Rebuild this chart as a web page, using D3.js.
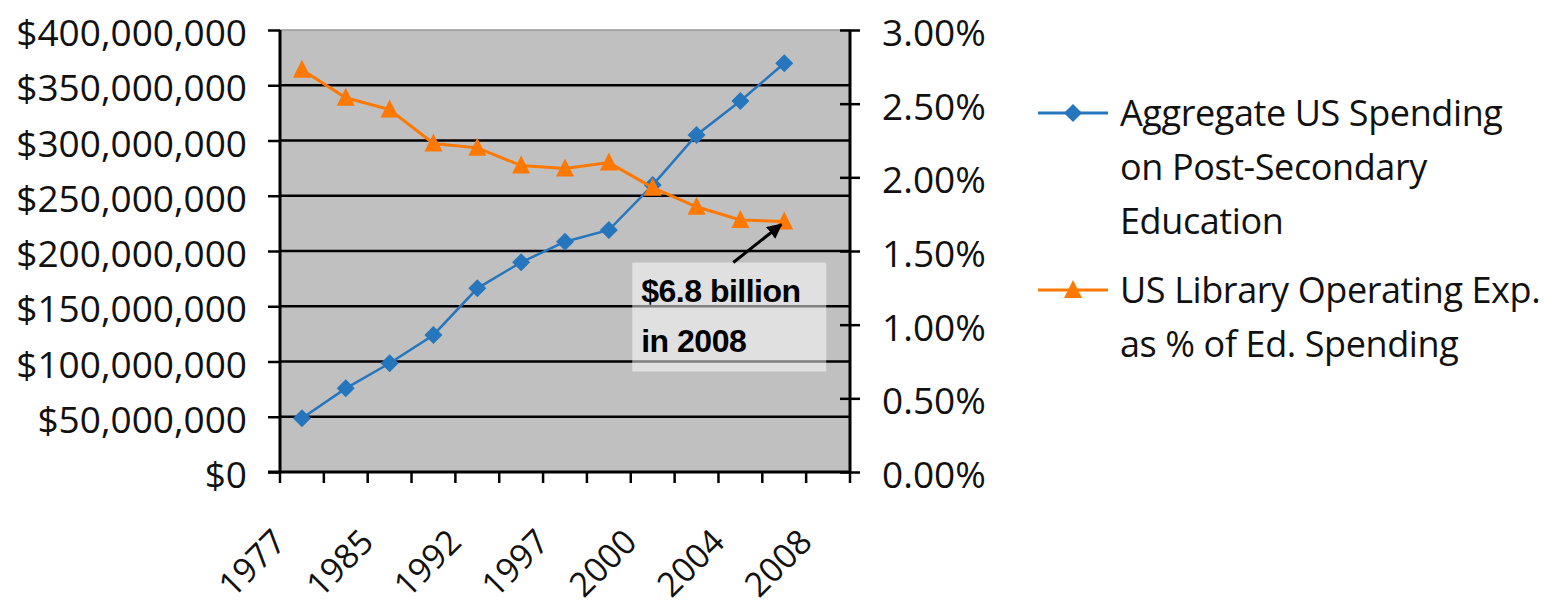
<!DOCTYPE html>
<html>
<head>
<meta charset="utf-8">
<script src="https://cdn.jsdelivr.net/npm/d3@7"></script>
<style>
  body { margin: 0; background: #fff; }
  svg { display: block; }
  .axis text { font-family: "Open Sans", sans-serif; font-size: 37px; fill: #111; }
  .axis path { display: none; }
  .legend text { font-family: "Open Sans", sans-serif; font-size: 36px; letter-spacing: -0.4px; fill: #111; }
</style>
</head>
<body>
<div id="chart"></div>
<script>
// category slots (13 on the axis, only every other one labelled)
const categories = ["1977", "1981", "1985", "1989", "1992", "1995", "1997", "1999", "2000", "2002", "2004", "2006", "2008"];
const shownLabels = ["1977", "1985", "1992", "1997", "2000", "2004", "2008"];

// Aggregate US Spending on Post-Secondary Education ($)
const spending = [48.6e6, 75.7e6, 98.4e6, 124e6, 166.2e6, 189.8e6, 208.4e6, 219e6, 259.7e6, 305e6, 335.7e6, 369.9e6];
// US Library Operating Exp. as % of Ed. Spending
const libraryPct = [0.0273, 0.0254, 0.0246, 0.0223, 0.0220, 0.0208, 0.0206, 0.0210, 0.0193, 0.0180, 0.0171, 0.0170];

const leftTicks = d3.range(0, 400e6 + 1, 50e6);
const rightTicks = d3.range(0, 0.0301, 0.005);

const legendLines = [
    ["Aggregate US Spending", "on Post-Secondary", "Education"],
    ["US Library Operating Exp.", "as % of Ed. Spending"]
];
const noteLines = ["$6.8 billion", "in 2008"];

const blue = "#2676be";
const orange = "#ff7800";

const margin = { left: 280, right: 706, top: 30, bottom: 137 };
const W = 1556, H = 609;
const width = W - margin.left - margin.right;
const height = H - margin.top - margin.bottom;

const svg = d3.select("#chart").append("svg")
    .attr("width", W)
    .attr("height", H);

const g = svg.append("g")
    .attr("transform", `translate(${margin.left}, ${margin.top})`);

const xScale = d3.scaleBand().domain(categories).range([0, width]).padding(0);
const yLeft = d3.scaleLinear().domain([0, 400e6]).range([height, 0]);
const yRight = d3.scaleLinear().domain([0, 0.03]).range([height, 0]);
const cx = i => xScale(categories[i]) + xScale.bandwidth() / 2;

// plot area
g.append("rect")
    .attr("width", width).attr("height", height)
    .attr("fill", "#c0c0c0")
    .attr("stroke", "#9a9a9a").attr("stroke-width", 1.5);

// gridlines from left axis
g.append("g").selectAll("line")
    .data(leftTicks.filter(d => d > 0 && d < 400e6))
    .join("line")
    .attr("x1", 0).attr("x2", width)
    .attr("y1", d => yLeft(d)).attr("y2", d => yLeft(d))
    .attr("stroke", "#000").attr("stroke-width", 2.5);

// left axis
const leftAxis = g.append("g").attr("class", "axis")
    .call(d3.axisLeft(yLeft).tickValues(leftTicks)
        .tickFormat(d3.format("$,.0f")).tickSize(12).tickPadding(21));
leftAxis.selectAll("line").attr("stroke", "#000").attr("stroke-width", 2.5);
leftAxis.selectAll("text").attr("dy", "0.42em");
g.append("line").attr("x1", 0).attr("x2", 0).attr("y1", 0).attr("y2", height)
    .attr("stroke", "#000").attr("stroke-width", 3);

// right axis
const rightAxis = g.append("g").attr("class", "axis")
    .attr("transform", `translate(${width}, 0)`)
    .call(d3.axisRight(yRight).tickValues(rightTicks)
        .tickFormat(d3.format(".2%")).tickSize(10).tickPadding(22));
rightAxis.selectAll("line").attr("x1", -10).attr("stroke", "#000").attr("stroke-width", 2.5);
rightAxis.selectAll("text").attr("dy", "0.42em");
g.append("line").attr("x1", width).attr("x2", width).attr("y1", 0).attr("y2", height)
    .attr("stroke", "#000").attr("stroke-width", 3);

// bottom axis
const bottomAxis = g.append("g").attr("class", "axis")
    .attr("transform", `translate(0, ${height})`);
bottomAxis.selectAll("line.tick")
    .data(d3.range(categories.length + 1))
    .join("line")
    .attr("class", "tick")
    .attr("x1", i => i * xScale.bandwidth()).attr("x2", i => i * xScale.bandwidth())
    .attr("y1", 0).attr("y2", 11)
    .attr("stroke", "#000").attr("stroke-width", 2.5);
bottomAxis.append("line")
    .attr("x1", -12).attr("x2", width).attr("y1", 0).attr("y2", 0)
    .attr("stroke", "#000").attr("stroke-width", 3);
bottomAxis.selectAll("text")
    .data(shownLabels)
    .join("text")
    .attr("text-anchor", "end")
    .style("font-size", "34px")
    .attr("transform", d => `translate(${cx(categories.indexOf(d)) - 14}, 72) rotate(-45)`)
    .text(d => d);

// series lines
const blueLine = d3.line().x((d, i) => cx(i)).y(d => yLeft(d));
const orangeLine = d3.line().x((d, i) => cx(i)).y(d => yRight(d));

const diamond = "M0,-9L9,0L0,9L-9,0Z";
const triangle = "M0,-10L9,8L-9,8Z";

g.append("path").attr("d", blueLine(spending))
    .attr("fill", "none").attr("stroke", blue).attr("stroke-width", 2.5);
g.append("g").selectAll("path")
    .data(spending)
    .join("path")
    .attr("transform", (d, i) => `translate(${cx(i)}, ${yLeft(d)})`)
    .attr("d", diamond).attr("fill", blue);

g.append("path").attr("d", orangeLine(libraryPct))
    .attr("fill", "none").attr("stroke", orange).attr("stroke-width", 3);
g.append("g").selectAll("path")
    .data(libraryPct)
    .join("path")
    .attr("transform", (d, i) => `translate(${cx(i)}, ${yRight(d)})`)
    .attr("d", triangle).attr("fill", orange);

// annotation on last point
const last = libraryPct.length - 1;
const tipX = cx(last) - 3, tipY = yRight(libraryPct[last]) + 3;
const note = g.append("g");
note.append("rect")
    .attr("x", tipX - 149).attr("y", tipY + 38)
    .attr("width", 194).attr("height", 109)
    .attr("fill", "#fff").attr("fill-opacity", 0.5);
note.selectAll("text")
    .data(noteLines)
    .join("text")
    .attr("x", tipX - 140)
    .attr("y", (d, i) => tipY + 77 + i * 50)
    .attr("font-family", "Liberation Sans, Arial, sans-serif")
    .attr("font-weight", "bold")
    .attr("font-size", 32)
    .attr("letter-spacing", -0.5)
    .attr("fill", "#000")
    .text(d => d);
svg.append("defs").append("marker")
    .attr("id", "arrow")
    .attr("viewBox", "0 0 10 10").attr("refX", 9).attr("refY", 5)
    .attr("markerWidth", 5).attr("markerHeight", 5)
    .attr("orient", "auto")
    .append("path").attr("d", "M0,0L10,5L0,10Z").attr("fill", "#000");
note.append("line")
    .attr("x1", tipX - 48).attr("y1", tipY + 38)
    .attr("x2", tipX).attr("y2", tipY)
    .attr("stroke", "#000").attr("stroke-width", 3)
    .attr("marker-end", "url(#arrow)");

// legend
const legend = svg.append("g").attr("class", "legend");
const entries = [
    { lines: legendLines[0], color: blue, shape: diamond, y: 113 },
    { lines: legendLines[1], color: orange, shape: triangle, y: 290 }
];
entries.forEach(e => {
    legend.append("line")
        .attr("x1", 1038).attr("x2", 1108).attr("y1", e.y).attr("y2", e.y)
        .attr("stroke", e.color).attr("stroke-width", 3);
    legend.append("path")
        .attr("transform", `translate(1073, ${e.y})`)
        .attr("d", e.shape).attr("fill", e.color);
    legend.selectAll(null)
        .data(e.lines)
        .join("text")
        .attr("x", 1120)
        .attr("y", (d, i) => e.y + 13 + i * 54)
        .text(d => d);
});
</script>
</body>
</html>
